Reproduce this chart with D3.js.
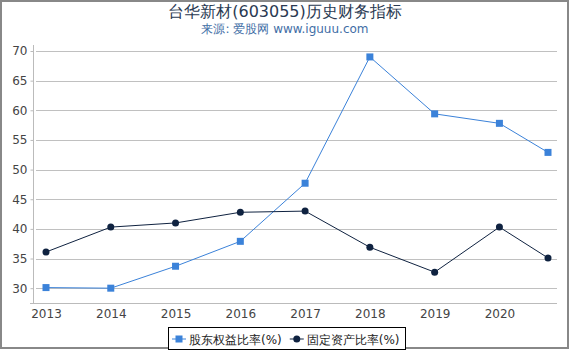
<!DOCTYPE html>
<html>
<head>
<meta charset="utf-8">
<script src="https://cdn.jsdelivr.net/npm/d3@7"></script>
<style>
  body { margin: 0; background: #fff; }
  svg { font-family: 'DejaVu Sans', sans-serif; display: block; }
</style>
</head>
<body>
<svg id="chart" width="570" height="350"></svg>
<script>
const YEARS = [2013, 2014, 2015, 2016, 2017, 2018, 2019, 2020, 2020.75],
      TICK_YEARS = [2013, 2014, 2015, 2016, 2017, 2018, 2019, 2020],
      EQUITY_RATIO = [30.1, 30.0, 33.7, 37.9, 47.7, 69.0, 59.4, 57.8, 52.9],
      FIXED_ASSET_RATIO = [36.1, 40.3, 41.0, 42.8, 43.0, 36.9, 32.7, 40.3, 35.1],
      Y_TICKS = [30, 35, 40, 45, 50, 55, 60, 65, 70],
      SERIES = [
        { name: '股东权益比率(%)', values: EQUITY_RATIO, color: '#3b82d9', marker: 'square' },
        { name: '固定资产比率(%)', values: FIXED_ASSET_RATIO, color: '#0f2240', marker: 'circle' }
      ]

const W = 570, H = 350,
      PLOT = { LEFT: 33, RIGHT: 557, TOP: 45, BOTTOM: 303 }

const svg = d3.select('#chart')

// outer frame
svg.append('rect')
  .attr('x', 1).attr('y', 1)
  .attr('width', W - 3).attr('height', H - 3)
  .attr('fill', 'none')
  .attr('stroke', '#888')
  .attr('stroke-width', 2)

svg.append('text')
  .attr('x', W / 2).attr('y', 17)
  .attr('text-anchor', 'middle')
  .style('font-size', '16px')
  .attr('fill', '#2a3a52')
  .text('台华新材(603055)历史财务指标')

svg.append('text')
  .attr('x', W / 2).attr('y', 33)
  .attr('text-anchor', 'middle')
  .style('font-size', '12px')
  .attr('fill', '#3f6ea6')
  .text('来源: 爱股网 www.iguuu.com')

const x = d3.scaleLinear().domain([2013, 2020.75]).range([46, 548])
const y = d3.scaleLinear().domain([27.5, 70]).range([PLOT.BOTTOM, 51])

// gridlines
svg.append('g')
  .selectAll('line')
  .data(Y_TICKS)
  .enter()
  .append('line')
  .attr('x1', PLOT.LEFT + 3).attr('x2', PLOT.RIGHT)
  .attr('y1', d => Math.round(y(d)) + 0.5).attr('y2', d => Math.round(y(d)) + 0.5)
  .attr('stroke', '#c0c0c0')
  .attr('stroke-width', 1)

const yAxis = svg.append('g')
  .attr('transform', `translate(${PLOT.LEFT + 0.5}, 0)`)
  .call(d3.axisLeft(y).tickValues(Y_TICKS).tickSize(3).tickPadding(3))
yAxis.select('.domain').attr('d', `M0,${PLOT.TOP}V${PLOT.BOTTOM}`).attr('stroke', '#bbb')
yAxis.selectAll('.tick line').attr('stroke', '#bbb')
yAxis.selectAll('text').style('font-size', '12px').attr('fill', '#444').attr('font-family', 'DejaVu Sans')

const xAxis = svg.append('g')
  .attr('transform', `translate(0, ${PLOT.BOTTOM + 0.5})`)
  .call(d3.axisBottom(x).tickValues(TICK_YEARS).tickFormat(d3.format('d')).tickSize(0).tickPadding(6))
xAxis.select('.domain').attr('d', `M${PLOT.LEFT - 3},0H${PLOT.RIGHT}`).attr('stroke', '#bbb')
xAxis.selectAll('text').style('font-size', '12px').attr('fill', '#444').attr('font-family', 'DejaVu Sans')

const line = d3.line()
  .x((d, i) => x(YEARS[i]))
  .y(d => y(d))

SERIES.forEach(s => {
  svg.append('path')
    .datum(s.values)
    .attr('d', line)
    .attr('fill', 'none')
    .attr('stroke', s.color)
    .attr('stroke-width', 1)

  const g = svg.append('g')
  if (s.marker === 'square') {
    g.selectAll('rect')
      .data(s.values)
      .enter()
      .append('rect')
      .attr('x', (d, i) => x(YEARS[i]) - 3.5)
      .attr('y', d => y(d) - 3.5)
      .attr('width', 7).attr('height', 7)
      .attr('fill', s.color)
  } else {
    g.selectAll('circle')
      .data(s.values)
      .enter()
      .append('circle')
      .attr('cx', (d, i) => x(YEARS[i]))
      .attr('cy', d => y(d))
      .attr('r', 3.5)
      .attr('fill', s.color)
  }
})

// legend
const legend = svg.append('g').attr('transform', 'translate(168, 327)')
legend.append('rect')
  .attr('x', 0.5).attr('y', 0.5)
  .attr('width', 237).attr('height', 22)
  .attr('fill', '#fff')
  .attr('stroke', '#000')

let lx = 4
SERIES.forEach(s => {
  const item = legend.append('g').attr('transform', `translate(${lx}, 12)`)
  item.append('line')
    .attr('x1', 0).attr('x2', 14)
    .attr('stroke', s.color)
  if (s.marker === 'square') {
    item.append('rect').attr('x', 3.5).attr('y', -3.5).attr('width', 7).attr('height', 7).attr('fill', s.color)
  } else {
    item.append('circle').attr('cx', 7).attr('r', 3.5).attr('fill', s.color)
  }
  const t = item.append('text')
    .attr('x', 17).attr('y', 4.5)
    .style('font-size', '12px')
    .attr('fill', '#222')
    .text(s.name)
  lx += 17 + t.node().getComputedTextLength() + 8
})
</script>
</body>
</html>
